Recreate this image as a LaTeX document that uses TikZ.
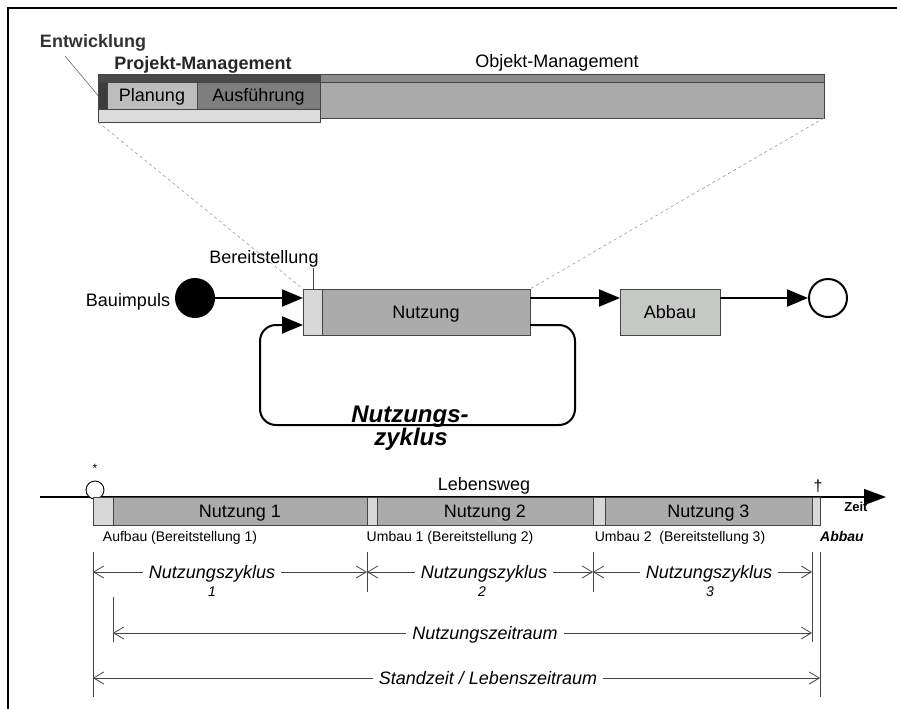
\documentclass[tikz,border=0pt]{standalone}
\usepackage{fontspec}
\setmainfont{Liberation Sans}
\usetikzlibrary{arrows.meta}
\definecolor{pmdark}{HTML}{4A4A4A}
\definecolor{omtop}{HTML}{8C8C8C}
\definecolor{entwc}{HTML}{3C3C3C}
\definecolor{planc}{HTML}{BDBDBD}
\definecolor{ausfc}{HTML}{7E7E7E}
\definecolor{omc}{HTML}{AAAAAA}
\definecolor{pmlow}{HTML}{DCDCDC}
\definecolor{nutzc}{HTML}{ABABAB}
\definecolor{lightc}{HTML}{D8D8D8}
\definecolor{abbauc}{HTML}{C6C8C6}
\definecolor{linec}{HTML}{444444}
\begin{document}
\begin{tikzpicture}[x=1pt,y=-1pt,
  box/.style={draw=linec,line width=0.8pt,inner sep=0pt,outer sep=0pt,anchor=north west,
    font=\fontsize{18}{21}\selectfont,text height=13pt,text depth=0pt},
  lbl/.style={font=\fontsize{18}{21}\selectfont,inner sep=0pt,anchor=base},
  small/.style={font=\fontsize{14}{16}\selectfont,inner sep=0pt,anchor=base},
  dimtxt/.style={font=\fontsize{18}{21}\selectfont\itshape,fill=white,inner xsep=6pt,inner ysep=1pt,
    text height=13pt,text depth=0pt},
  idx/.style={font=\fontsize{14}{16}\selectfont\itshape,inner sep=0pt},
  flow/.style={line width=2pt,-{Triangle[length=21pt,width=17pt]}},
  dim/.style={draw=linec,line width=0.8pt,{Straight Barb[length=10pt,width=12pt]}-{Straight Barb[length=10pt,width=12pt]}},
  tick/.style={draw=linec,line width=0.8pt},
  guide/.style={draw=black!40,line width=0.6pt,dash pattern=on 3pt off 3pt}
]
\useasboundingbox (0,0) rectangle (897,709);
% frame
\coordinate (f0) at (8,8);
\coordinate (f1) at (897,8);
\coordinate (f2) at (10,709);
\draw[line width=1.5pt] (f1) -- (f0) -- (f0 |- f2);

% ---------- top bar ----------
\node[box,fill=pmdark,minimum width=222pt,minimum height=8pt] (pmtop) at (98,74) {};
\node[box,fill=omtop,minimum width=504pt,minimum height=8pt] (omtop) at (320,74) {};
\node[box,fill=entwc,minimum width=9pt,minimum height=27pt] (entw) at (98,82) {};
\node[box,fill=planc,minimum width=90pt,minimum height=27pt] (plan) at (107,82) {Planung};
\node[box,fill=ausfc,minimum width=123pt,minimum height=27pt] (ausf) at (197,82) {Ausführung};
\node[box,fill=pmlow,minimum width=222pt,minimum height=9pt] (pmlow) at (98,109) {};
\node[box,fill=omc,minimum width=504pt,minimum height=36pt] (om) at (320,82) {};

\node[lbl,font=\fontsize{18}{21}\selectfont\bfseries,text=black!80] (entwl) at (93,48) {Entwicklung};
\node[lbl,font=\fontsize{18}{21}\selectfont\bfseries,text=black!85] (pml) at (203,70) {Projekt-Management};
\node[lbl] (oml) at (557,68) {Objekt-Management};
\coordinate (eline) at (65,56);
\draw[black!60,line width=0.6pt] (eline) -- (entw.west);

% ---------- middle process ----------
\node[box,fill=lightc,minimum width=19pt,minimum height=46pt] (bereit) at (303,289) {};
\node[box,fill=nutzc,minimum width=208pt,minimum height=46pt] (nutz) at (322,289) {Nutzung};
\node[box,fill=abbauc,minimum width=100pt,minimum height=46pt] (abbau) at (620,289) {Abbau};
\draw[guide] (pmlow.south west) -- (bereit.north west);
\draw[guide] (om.south east) -- (nutz.north east);

\node[circle,fill=black,minimum size=40pt,inner sep=0pt] (start) at (195,298) {};
\node[circle,draw,line width=2pt,fill=white,minimum size=38pt,inner sep=0pt] (end) at (828,298) {};
\node[lbl] (baul) at (128,306) {Bauimpuls};
\node[lbl] (bereitl) at (264,263) {Bereitstellung};
\coordinate (bline) at (313,268);
\draw[linec,line width=0.6pt] (bline) -- (bline |- bereit.north);

\draw[flow] (start) -- (bereit.west |- start);
\draw[flow] (nutz.east |- start) -- (abbau.west |- start);
\draw[flow] (abbau.east |- start) -- (end);
\coordinate (ly) at (0,325);
\coordinate (lr) at (575,425);
\coordinate (ll) at (260,425);
\draw[flow,rounded corners=16pt] (nutz.east |- ly) -- (lr |- ly) -- (lr) -- (ll) -- (ll |- ly) -- (bereit.west |- ly);
\node[lbl,font=\fontsize{24}{26}\selectfont\bfseries\itshape] (zyk1) at (410,422) {Nutzungs-};
\node[lbl,font=\fontsize{24}{26}\selectfont\bfseries\itshape] (zyk2) at (411,445) {zyklus};

% ---------- timeline ----------
\coordinate (ax0) at (40,497);
\coordinate (ax1) at (886,497);
\draw[line width=1.5pt,-{Triangle[length=22pt,width=16pt]}] (ax0) -- (ax1);
\node[circle,draw,line width=0.9pt,fill=white,minimum size=18pt,inner sep=0pt] (birth) at (95,490) {};
\node[small,font=\fontsize{12}{14}\selectfont] (star) at (95,472) {*};

\node[box,fill=lightc,minimum width=20pt,minimum height=28pt] (aufb) at (93,497) {};
\node[box,fill=nutzc,minimum width=254pt,minimum height=28pt] (n1) at (113,497) {Nutzung 1};
\node[box,fill=lightc,minimum width=10pt,minimum height=28pt] (u1) at (367,497) {};
\node[box,fill=nutzc,minimum width=216pt,minimum height=28pt] (n2) at (377,497) {Nutzung 2};
\node[box,fill=lightc,minimum width=12pt,minimum height=28pt] (u2) at (593,497) {};
\node[box,fill=nutzc,minimum width=207pt,minimum height=28pt] (n3) at (605,497) {Nutzung 3};
\node[box,fill=lightc,minimum width=8pt,minimum height=28pt] (ab) at (812,497) {};

\node[lbl] (lebl) at (484,490) {Lebensweg};
\node[lbl,font=\fontsize{16}{18}\selectfont] (dagger) at (818,491) {†};
\node[small,font=\fontsize{13}{15}\selectfont\bfseries] (zeit) at (856,511) {Zeit};

\node[small] (aufl) at (180,541) {Aufbau (Bereitstellung 1)};
\node[small] (u1l) at (450,541) {Umbau 1 (Bereitstellung 2)};
\node[small] (u2l) at (680,541) {Umbau 2\ \ (Bereitstellung 3)};
\node[small,font=\fontsize{14}{16}\selectfont\bfseries\itshape] (abl) at (842,541) {Abbau};

% ticks
\coordinate (t0a) at (93,552);  \coordinate (t0b) at (93,697);
\coordinate (t1a) at (367,552); \coordinate (t1b) at (367,592);
\coordinate (t2a) at (593,552); \coordinate (t2b) at (593,592);
\coordinate (t3a) at (812,552); \coordinate (t3b) at (812,642);
\coordinate (t4a) at (820,552); \coordinate (t4b) at (820,697);
\coordinate (t5a) at (113,597); \coordinate (t5b) at (113,642);
\draw[tick] (t0a) -- (t0b);
\draw[tick] (t1a) -- (t1b);
\draw[tick] (t2a) -- (t2b);
\draw[tick] (t3a) -- (t3b);
\draw[tick] (t4a) -- (t4b);
\draw[tick] (t5a) -- (t5b);

% dimension lines
\coordinate (r1) at (0,572);
\coordinate (r2) at (0,633);
\coordinate (r3) at (0,678);
\draw[dim] (t0a |- r1) -- (t1a |- r1);
\draw[dim] (t1a |- r1) -- (t2a |- r1);
\draw[dim] (t2a |- r1) -- (t3a |- r1);
\draw[dim] (t5a |- r2) -- (t3a |- r2);
\draw[dim] (t0a |- r3) -- (t4a |- r3);

\node[dimtxt] (nz1) at (212,572) {Nutzungszyklus};
\node[dimtxt] (nz2) at (484,572) {Nutzungszyklus};
\node[dimtxt] (nz3) at (709,572) {Nutzungszyklus};
\node[idx] (i1) at (212,592) {1};
\node[idx] (i2) at (482,592) {2};
\node[idx] (i3) at (710,592) {3};
\node[dimtxt] (nzr) at (485,633) {Nutzungszeitraum};
\node[dimtxt] (slz) at (488,678) {Standzeit / Lebenszeitraum};
\end{tikzpicture}
\end{document}
